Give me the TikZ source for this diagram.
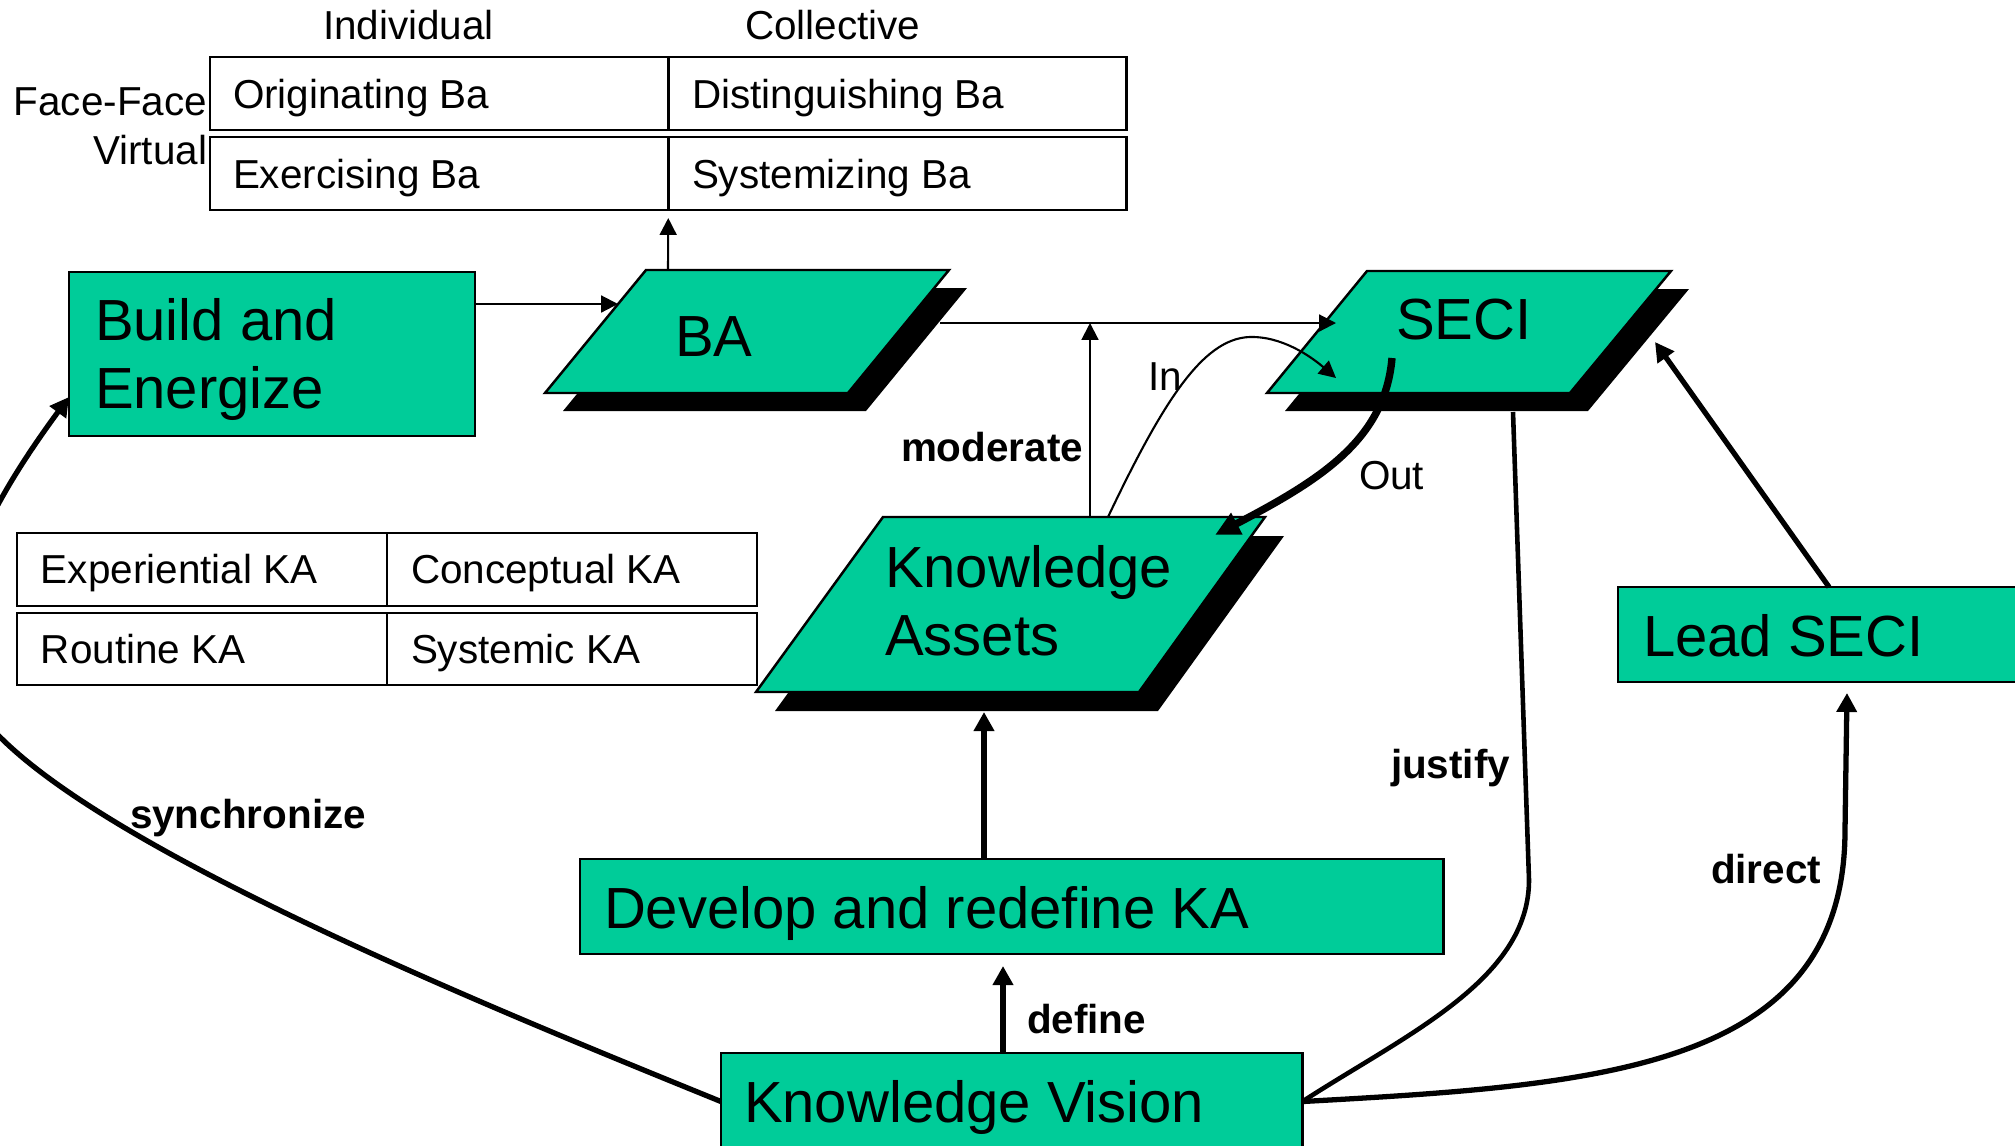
\documentclass[tikz,border=0pt]{standalone}
\usepackage{fontspec}
\setmainfont{Liberation Sans}
\usetikzlibrary{arrows.meta,calc}
\definecolor{kgreen}{RGB}{0,204,153}
\begin{document}
\begin{tikzpicture}[x=0.01cm,y=-0.01cm,
  every node/.style={inner sep=0pt, outer sep=0pt},
  greenbox/.style={draw=black, fill=kgreen, line width=0.7pt, rectangle, anchor=north west},
  cell/.style={draw=black, line width=0.7pt, rectangle, anchor=north west,
    minimum width=4.58cm, minimum height=0.73cm},
  kacell/.style={cell, minimum width=3.70cm},
  paraface/.style={draw=black, fill=kgreen, line width=0.7pt, line join=miter},
  parashadow/.style={fill=black},
  bigtext/.style={font=\fontsize{16.5}{19.8}\selectfont, anchor=base west},
  bigtwo/.style={font=\fontsize{16.5}{19.6}\selectfont, align=left, anchor=north west},
  smalltext/.style={font=\fontsize{11.5}{14}\selectfont, anchor=base west},
  lbl/.style={font=\fontsize{11.5}{14}\selectfont\bfseries, anchor=base west},
  thinarrow/.style={line width=0.6pt, -{Triangle[length=4.8pt,width=4.8pt]}},
  thickarrow/.style={line width=1.5pt, -{Triangle[length=5.4pt,width=5.6pt]}},
  heavyarrow/.style={line width=2.1pt, -{Triangle[length=7pt,width=6.5pt]}},
  thickline/.style={line width=1.3pt}]

\useasboundingbox (0,0) rectangle (2015,1145);
\clip (0,0) rectangle (2015,1145);

% ---- Ba matrix ----
\node[smalltext] (indiv) at (323,39) {Individual};
\node[smalltext] (coll) at (745,39) {Collective};
\node[smalltext, anchor=base east] (ff) at (207,115) {Face-Face};
\node[smalltext, anchor=base east] (virt) at (207,164) {Virtual};
\node[cell] (orig) at (210,57) {};
\node[cell] (dist) at (668,57) {};
\node[cell] (exer) at (210,137) {};
\node[cell] (syst) at (668,137) {};
\node[smalltext] (origt) at (233,108) {Originating Ba};
\node[smalltext] (distt) at (692,108) {Distinguishing Ba};
\node[smalltext] (exert) at (233,188) {Exercising Ba};
\node[smalltext] (systt) at (692,188) {Systemizing Ba};

% ---- knowledge asset matrix ----
\node[kacell] (expe) at (17,533) {};
\node[kacell] (conc) at (387,533) {};
\node[kacell, minimum height=0.72cm] (rout) at (17,613) {};
\node[kacell, minimum height=0.72cm] (sysk) at (387,613) {};
\node[smalltext] (expet) at (41,583) {Experiential KA};
\node[smalltext] (conct) at (411,583) {Conceptual KA};
\node[smalltext] (routt) at (41,663) {Routine KA};
\node[smalltext] (syskt) at (411,663) {Systemic KA};

% ---- rectangular process boxes ----
\node[greenbox, minimum width=4.06cm, minimum height=1.64cm] (be) at (69,272) {};
\node[bigtwo] (bet) at (95,298) {Build and\\Energize};
\node[greenbox, minimum width=8.63cm, minimum height=0.95cm] (dev) at (580,859) {};
\node[bigtext] (devt) at (604,928) {Develop and redefine KA};
\node[greenbox, minimum width=5.81cm, minimum height=0.97cm] (kv) at (721,1053) {};
\node[bigtext] (kvt) at (744,1122) {Knowledge Vision};
\node[greenbox, minimum width=4.5cm, minimum height=0.95cm] (lead) at (1618,587) {};
\node[bigtext] (leadt) at (1643,656) {Lead SECI};

% ---- parallelograms with drop shadows ----
\fill[parashadow] (664,288) -- (967,288) -- (866,411) -- (563,411) -- cycle;
\draw[paraface] (646,270) -- (949,270) -- (848,393) -- (545,393) -- cycle;
\node[bigtext] (ba) at (675,356) {BA};

\fill[parashadow] (1385,289) -- (1689,289) -- (1588,411) -- (1285,411) -- cycle;
\draw[paraface] (1367,271) -- (1671,271) -- (1570,393) -- (1267,393) -- cycle;
\node[bigtext] (seci) at (1396,339) {SECI};

\fill[parashadow] (902,536) -- (1284,536) -- (1158,711) -- (775,711) -- cycle;
\draw[paraface] (883,517) -- (1265,517) -- (1139,692) -- (756,692) -- cycle;
\node[bigtwo] (ka) at (885,545) {Knowledge\\Assets};

% ---- connectors ----
\coordinate (baIn) at (618,304);
\draw[thinarrow] (be.east |- baIn) -- (baIn);

\coordinate (baTop) at (668,270);
\draw[thinarrow] (baTop) -- ($(exer.south east)+(0,8)$);

\coordinate (baOut) at (940,323);
\coordinate (seciIn) at (1336,323);
\draw[thinarrow] (baOut) -- (seciIn);

\coordinate (kaMod) at (1090,517);
\draw[thinarrow] (kaMod) -- (kaMod |- seciIn);

\coordinate (kaIn) at (1108,517);
\coordinate (seciLoop) at (1336,378);
\draw[thinarrow] (kaIn) .. controls (1166,395) and (1206,335) .. (1254,337)
  .. controls (1287,338) and (1315,360) .. (seciLoop);

\coordinate (seciOut) at (1392,358);
\coordinate (kaOut) at (1215,535);
\draw[heavyarrow] (seciOut) .. controls (1385,440) and (1320,480) .. (kaOut);

\coordinate (kaBottom) at (984,712);
\draw[thickarrow] (dev.north -| kaBottom) -- (kaBottom);

\coordinate (devBottom) at (1003,966);
\draw[thickarrow] (kv.north -| devBottom) -- (devBottom);

\coordinate (seciFoot) at (1513,412);
\draw[thickline] (kv.east) .. controls (1405,1035) and (1529,980) .. (1529,880) -- (seciFoot);

\coordinate (leadIn) at (1847,693);
\draw[thickarrow] (kv.east) .. controls (1600,1085) and (1845,1070) .. (1845,830) -- (leadIn);

\coordinate (leadTop) at (1829,587);
\coordinate (seciSide) at (1655,342);
\draw[thickarrow] (leadTop) -- (seciSide);

\coordinate (beIn) at (69,397);
\draw[thickarrow] (kv.west) .. controls (491,1008) and (120,857) .. (0,737)
  .. controls (-90,647) and (-20,518) .. (beIn);

% ---- connector labels ----
\node[lbl] (modl) at (901,461) {moderate};
\node[smalltext] (inl) at (1148,390) {In};
\node[smalltext] (outl) at (1359,489) {Out};
\node[lbl] (justl) at (1391,778) {justify};
\node[lbl] (dirl) at (1711,883) {direct};
\node[lbl] (defl) at (1027,1033) {define};
\node[lbl] (syncl) at (130,828) {synchronize};
\end{tikzpicture}
\end{document}
